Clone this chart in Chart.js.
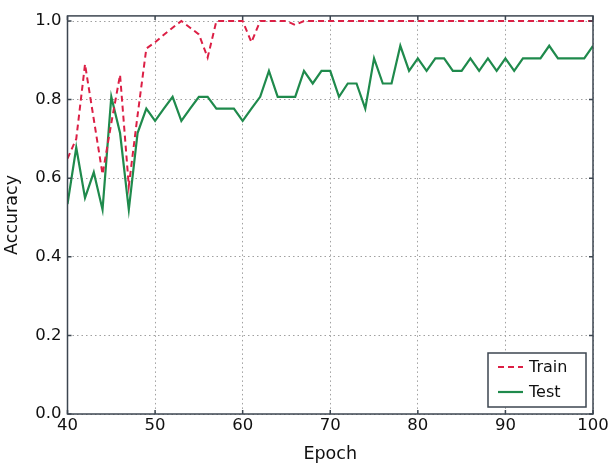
<!DOCTYPE html>
<html lang="en">
<head>
<meta charset="UTF-8">
<title>Accuracy</title>
<script src="https://cdn.jsdelivr.net/npm/chart.js"></script>
<style>
  html, body { margin: 0; padding: 0; background: #fff; }
  #wrap { width: 615px; height: 469px; }
</style>
</head>
<body>
<div id="wrap"><canvas id="myChart" width="615" height="469"></canvas></div>
<script>
// data
var epochs = [40, 41, 42, 43, 44, 45, 46, 47, 48, 49, 50, 51, 52, 53, 54, 55, 56, 57, 58, 59,
              60, 61, 62, 63, 64, 65, 66, 67, 68, 69, 70, 71, 72, 73, 74, 75, 76, 77, 78, 79,
              80, 81, 82, 83, 84, 85, 86, 87, 88, 89, 90, 91, 92, 93, 94, 95, 96, 97, 98, 99, 100]

var train = [0.65, 0.70, 0.89, 0.75, 0.61, 0.74, 0.863, 0.58, 0.76, 0.93,
             0.946, 0.965, 0.983, 1.0, 0.983, 0.966, 0.907, 1.0, 1.0, 1.0,
             1.0, 0.946, 1.0, 1.0, 1.0, 1.0, 0.99, 1.0, 1.0, 1.0,
             1.0, 1.0, 1.0, 1.0, 1.0, 1.0, 1.0, 1.0, 1.0, 1.0,
             1.0, 1.0, 1.0, 1.0, 1.0, 1.0, 1.0, 1.0, 1.0, 1.0,
             1.0, 1.0, 1.0, 1.0, 1.0, 1.0, 1.0, 1.0, 1.0, 1.0, 1.0]

var test = [0.534, 0.678, 0.55, 0.615, 0.52, 0.807, 0.715, 0.52, 0.715, 0.777,
            0.746, 0.777, 0.807, 0.746, 0.777, 0.807, 0.807, 0.777, 0.777, 0.777,
            0.746, 0.777, 0.807, 0.873, 0.807, 0.807, 0.807, 0.873, 0.841, 0.873,
            0.873, 0.807, 0.841, 0.841, 0.777, 0.905, 0.841, 0.841, 0.937, 0.873,
            0.905, 0.873, 0.905, 0.905, 0.873, 0.873, 0.905, 0.873, 0.905, 0.873,
            0.905, 0.873, 0.905, 0.905, 0.905, 0.937, 0.905, 0.905, 0.905, 0.905, 0.937]

var xTicks = [40, 50, 60, 70, 80, 90, 100]
var yTicks = [0.0, 0.2, 0.4, 0.6, 0.8, 1.0]

var FONT = "'DejaVu Sans', sans-serif"
var FRAME = '#3c4650'

function pts(ys) {
    return epochs.map(function (e, i) { return { x: e, y: ys[i] } })
}

// frame, inward ticks, legend box
var extras = {
    id: 'extras',
    afterDatasetsDraw: function (chart) {
        var c = chart.ctx, a = chart.chartArea
        var xs = chart.scales.x, ys = chart.scales.y
        c.save()
        c.strokeStyle = FRAME
        c.lineWidth = 1.5
        c.beginPath()
        xTicks.forEach(function (t) {
            var px = xs.getPixelForValue(t)
            c.moveTo(px, a.bottom); c.lineTo(px, a.bottom - 4)
            c.moveTo(px, a.top); c.lineTo(px, a.top + 4)
        })
        yTicks.forEach(function (t) {
            var py = ys.getPixelForValue(t)
            c.moveTo(a.left, py); c.lineTo(a.left + 4, py)
            c.moveTo(a.right, py); c.lineTo(a.right - 4, py)
        })
        c.stroke()
        c.strokeRect(a.left, a.top, a.right - a.left, a.bottom - a.top)

        // legend
        var lx = 488, ly = 353, lw = 98, lh = 54
        c.fillStyle = '#fff'
        c.fillRect(lx, ly, lw, lh)
        c.lineWidth = 1.5
        c.strokeStyle = FRAME
        c.strokeRect(lx, ly, lw, lh)
        chart.data.datasets.forEach(function (ds, i) {
            var yy = ly + 14 + i * 25
            c.strokeStyle = ds.borderColor
            c.lineWidth = ds.borderWidth
            c.setLineDash(ds.borderDash || [])
            c.beginPath()
            c.moveTo(lx + 10, yy); c.lineTo(lx + 35, yy)
            c.stroke()
            c.setLineDash([])
            c.fillStyle = '#111'
            c.font = '16px ' + FONT
            c.textBaseline = 'middle'
            c.fillText(ds.label, lx + 41, yy + 1)
        })
        c.restore()
    }
}

const ctx = document.getElementById('myChart')

new Chart(ctx, {
    type: 'line',
    data: {
        datasets: [{
            label: 'Train',
            data: pts(train),
            borderColor: '#dc1f45',
            borderWidth: 2,
            borderDash: [6, 4],
            pointRadius: 0,
            tension: 0,
            fill: false
        }, {
            label: 'Test',
            data: pts(test),
            borderColor: '#1f8a4c',
            borderWidth: 2.2,
            pointRadius: 0,
            tension: 0,
            fill: false
        }]
    },
    options: {
        responsive: false,
        animation: false,
        layout: { padding: { top: 5, right: 22, left: 0, bottom: 0 } },
        plugins: { legend: { display: false }, tooltip: { enabled: false } },
        scales: {
            x: {
                type: 'linear',
                min: 40,
                max: 100,
                afterBuildTicks: function (s) { s.ticks = xTicks.map(function (v) { return { value: v } }) },
                afterFit: function (s) { s.height = 55 },
                ticks: {
                    color: '#111',
                    font: { family: FONT, size: 16.5 },
                    padding: 2,
                    maxRotation: 0
                },
                grid: {
                    color: '#a0a0a0',
                    lineWidth: 1,
                    drawTicks: false
                },
                border: { display: false, dash: [1.5, 3] },
                title: {
                    display: true,
                    text: 'Epoch',
                    color: '#111',
                    font: { family: FONT, size: 17.5 },
                    padding: { top: 0, bottom: 4 }
                }
            },
            y: {
                min: 0,
                max: 1.013,
                afterBuildTicks: function (s) { s.ticks = yTicks.map(function (v) { return { value: v } }) },
                afterFit: function (s) { s.width = 67.5 },
                ticks: {
                    color: '#111',
                    font: { family: FONT, size: 16.5 },
                    padding: 6,
                    callback: function (v) { return v.toFixed(1) }
                },
                grid: {
                    color: '#a0a0a0',
                    lineWidth: 1,
                    drawTicks: false
                },
                border: { display: false, dash: [1.5, 3] },
                title: {
                    display: true,
                    text: 'Accuracy',
                    color: '#111',
                    font: { family: FONT, size: 17.5 },
                    padding: { top: 2, bottom: 0 }
                }
            }
        }
    },
    plugins: [extras]
})
</script>
</body>
</html>
